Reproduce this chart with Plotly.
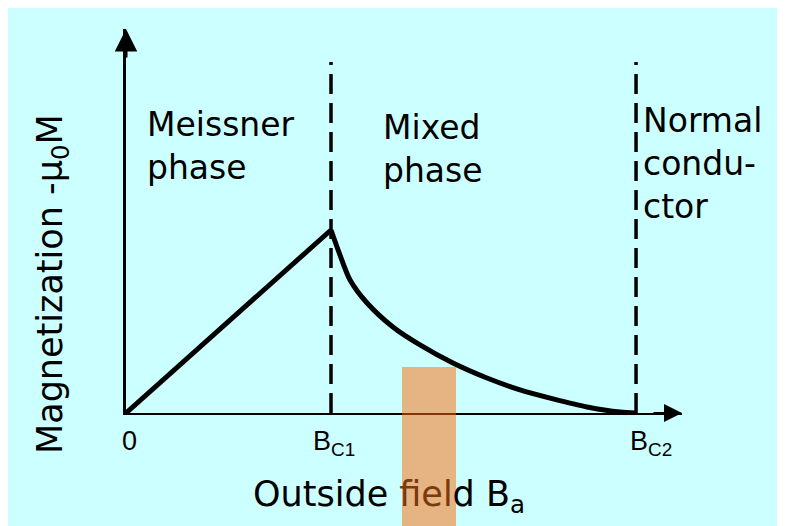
import plotly.graph_objects as go

# ---- data (field in units of B_C1, magnetization in units of peak -mu0*M) ----
BC1 = 1.0
BC2 = 2.488
rise_x = [0.0, 1.0]
rise_y = [0.0, 1.0]
decay_x = [1.0, 1.044, 1.093, 1.176, 1.302, 1.434, 1.595, 1.761, 1.922, 2.083, 2.249, 2.410, 2.488]
decay_y = [1.0, 0.863, 0.727, 0.601, 0.470, 0.372, 0.273, 0.191, 0.126, 0.077, 0.033, 0.005, 0.0]
tick_labels = ["0", "B<sub>C1</sub>", "B<sub>C2</sub>"]
region_labels = ["Meissner<br>phase", "Mixed<br>phase", "Normal<br>condu-<br>ctor"]
x_title = "Outside <span style='color:#7a3a0a'>fiel</span>d B<sub>a</sub>"
y_title = "Magnetization -μ<sub>0</sub>M"
dash_top = 1.918

# page has an 8px body margin; figure extends past the window edge on right/bottom
W, H = 785, 526
L, R, T, B = 118, 111, 21, 121
X_MAX = 2.7122
Y_MAX = 2.0984

# helpers: screen pixel -> paper fraction (plot origin at screen (126, 413))
def px(xp):
    return (xp - 126) / 556

def py(yp):
    return (413 - yp) / 384

COMIC = "Comic Sans MS, DejaVu Sans, sans-serif"
ARIAL = "Arial, Liberation Sans, sans-serif"
CYAN = "#CCFFFF"

fig = go.Figure()
fig.add_trace(go.Scatter(x=rise_x, y=rise_y, mode="lines",
                         line=dict(color="black", width=5), cliponaxis=False))
fig.add_trace(go.Scatter(x=decay_x, y=decay_y, mode="lines",
                         line=dict(color="black", width=5, shape="spline", smoothing=0.8),
                         cliponaxis=False))

shapes = []
# dashed phase boundaries
for xv in [BC1, BC2]:
    shapes.append(dict(type="line", xref="x", yref="y", x0=xv, x1=xv, y0=0, y1=dash_top,
                       line=dict(color="black", width=3.5, dash="20px,9px"), layer="below"))
# orange translucent highlight
shapes.append(dict(type="rect", xref="paper", yref="paper", x0=px(402), x1=px(456), y0=py(540), y1=py(367),
                   fillcolor="rgb(255,105,5)", opacity=0.5, line_width=0, layer="above"))

ann = []
# arrowheads on the axes
ann.append(dict(xref="paper", yref="paper", x=1, y=0, ax=-30, ay=0, text="", showarrow=True,
                arrowhead=2, arrowsize=1.8, arrowwidth=2, arrowcolor="black", standoff=0))
ann.append(dict(xref="paper", yref="paper", x=0, y=1, ax=0, ay=30, text="", showarrow=True,
                arrowhead=2, arrowsize=1.5, arrowwidth=3, arrowcolor="black", standoff=0))
# region labels
ann.append(dict(xref="paper", yref="paper", x=px(145), y=py(146), xanchor="left", yanchor="middle",
                text=region_labels[0], showarrow=False, align="left",
                font=dict(family=COMIC, size=33, color="black")))
ann.append(dict(xref="paper", yref="paper", x=px(381), y=py(149), xanchor="left", yanchor="middle",
                text=region_labels[1], showarrow=False, align="left",
                font=dict(family=COMIC, size=33, color="black")))
ann.append(dict(xref="paper", yref="paper", x=px(641), y=py(163), xanchor="left", yanchor="middle",
                text=region_labels[2], showarrow=False, align="left",
                font=dict(family=COMIC, size=33, color="black")))
# tick labels
ann.append(dict(xref="x", yref="paper", x=0, xshift=3, y=py(424), xanchor="center", yanchor="top",
                text=tick_labels[0], showarrow=False, font=dict(family=ARIAL, size=27, color="black")))
ann.append(dict(xref="x", yref="paper", x=BC1, xshift=-20, y=py(424), xanchor="left", yanchor="top",
                text=tick_labels[1], showarrow=False, font=dict(family=ARIAL, size=27, color="black")))
ann.append(dict(xref="x", yref="paper", x=BC2, xshift=-8, y=py(424), xanchor="left", yanchor="top",
                text=tick_labels[2], showarrow=False, font=dict(family=ARIAL, size=27, color="black")))
# axis titles
ann.append(dict(xref="paper", yref="paper", x=px(389), y=py(496), xanchor="center", yanchor="middle",
                text=x_title, showarrow=False, font=dict(family=COMIC, size=35, color="black")))
ann.append(dict(xref="paper", yref="paper", x=px(52), y=py(284), xanchor="center", yanchor="middle",
                text=y_title, textangle=-90, showarrow=False, font=dict(family=COMIC, size=35, color="black")))

fig.update_layout(
    width=W, height=H,
    margin=dict(l=L, r=R, t=T, b=B, pad=0),
    paper_bgcolor=CYAN, plot_bgcolor=CYAN,
    showlegend=False,
    shapes=shapes, annotations=ann,
    xaxis=dict(range=[0, X_MAX], showgrid=False, zeroline=False, showticklabels=False, ticks="",
               showline=True, linecolor="black", linewidth=2, fixedrange=True),
    yaxis=dict(range=[0, Y_MAX], showgrid=False, zeroline=False, showticklabels=False, ticks="",
               showline=True, linecolor="black", linewidth=3, fixedrange=True),
)

fig.write_html("out.html")
